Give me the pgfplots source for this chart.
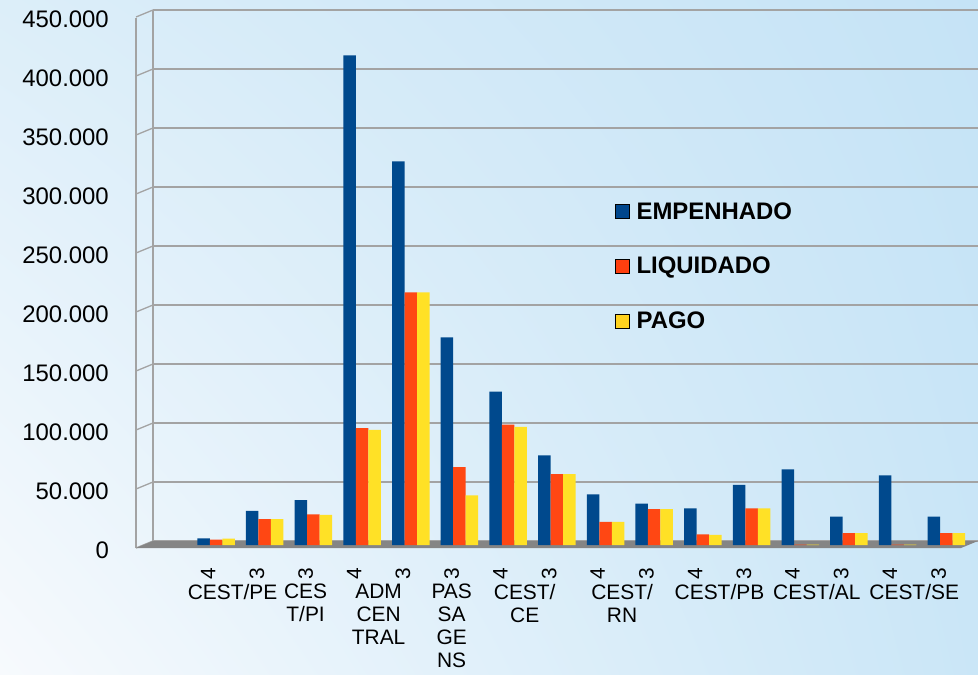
\documentclass[border=0pt]{standalone}
\usepackage{pgfplots}
\pgfplotsset{compat=1.18}
\usepackage{pgfplotstable}
\usetikzlibrary{shadings}
\usepackage{fontspec}
\setmainfont{Liberation Sans}
\definecolor{cblue}{HTML}{00498D}
\definecolor{cred}{HTML}{FF4713}
\definecolor{cyel}{HTML}{FFE126}
\definecolor{lblue}{HTML}{00468C}
\definecolor{lred}{HTML}{FE3F0F}
\definecolor{lyel}{HTML}{FFD21F}
\definecolor{gridc}{HTML}{A3A3A3}
\definecolor{floorc}{HTML}{858585}
\definecolor{bgll}{HTML}{F7FAFD}
\definecolor{bgul}{HTML}{DCEEF9}
\definecolor{bgur}{HTML}{C5E3F6}
\definecolor{bglr}{HTML}{CAE6F7}

% values in thousands
\pgfplotstableread{
x E L P
1 5.7 4.5 5.3
2 29 22 22
3 38 26 25.5
4 415 99 97.5
5 325 214 214
6 176 66 42
7 130 102 100
8 76 60 60
9 43 19.5 19.5
10 35 30.5 30.5
11 31 9 8.5
12 51 31 31
13 64 0.4 0.4
14 24 10 10
15 59 0.4 0.4
16 24 10 10
}\datatable

\begin{document}
\begin{tikzpicture}
\shade[lower left=bgll, upper left=bgul, upper right=bgur, lower right=bglr]
  (0,0) rectangle (978bp,675bp);
% front edge of the 3D wall
\draw[gridc, line width=1.3bp] (136bp,127bp) -- (136bp,657bp);
\foreach \k in {0,...,9}{
  \draw[gridc, line width=1.3bp] (136bp,{(127+59*\k)*1bp}) -- (153bp,{(134+59*\k)*1bp});
}
\begin{axis}[
  at={(153bp,134bp)}, anchor=south west,
  scale only axis, width=825bp, height=531bp,
  xmin=-0.294, xmax=16.65, ymin=0, ymax=450,
  axis lines*=left,
  x axis line style={draw=none},
  y axis line style={gridc, line width=1.3bp},
  major tick length=0pt,
  ytick={0,50,100,150,200,250,300,350,400,450},
  yticklabels={0,50.000,100.000,150.000,200.000,250.000,300.000,350.000,400.000,450.000},
  yticklabel style={font=\fontsize{24}{24}\selectfont, anchor=east, inner sep=0pt, xshift=-44bp, yshift=-9bp},
  xtick={0.84,1.84,2.84,3.84,4.84,5.84,6.84,7.84,8.84,9.84,10.84,11.84,12.84,13.84,14.84,15.84},
  xticklabels={4,3,3,4,3,3,4,3,4,3,4,3,4,3,4,3},
  xticklabel style={font=\fontsize{21}{21}\selectfont, rotate=90, anchor=east, inner sep=0pt},
  xticklabel shift=27bp,
  ymajorgrids, grid style={gridc, line width=1.3bp},
  clip=false,
  legend image code/.code={\fill[#1] (0bp,-7bp) rectangle (14bp,7bp);},
  legend style={at={(0.560,0.638)}, anchor=north west, draw=none, fill=none,
    font=\bfseries\fontsize{24}{28}\selectfont, row sep=36.5bp, inner sep=0pt,
    nodes={inner sep=0pt}},
  legend cell align=left,
]
\fill[floorc] (axis cs:-0.294,0) -- (axis cs:16.65,0)
  -- ([xshift=-17bp,yshift=-7bp]axis cs:16.65,0)
  -- ([xshift=-17bp,yshift=-7bp]axis cs:-0.294,0) -- cycle;
\addplot[ybar, bar width=12.5bp, bar shift=-12.5bp, yshift=-4bp, draw=none,
  fill=cblue, forget plot]
  table[x=x, y=E] {\datatable};
\addplot[ybar, bar width=12.5bp, bar shift=0bp, yshift=-4bp, draw=none,
  fill=cred, forget plot]
  table[x=x, y=L] {\datatable};
\addplot[ybar, bar width=12.5bp, bar shift=12.5bp, yshift=-4bp, draw=none,
  fill=cyel, forget plot]
  table[x=x, y=P] {\datatable};
\addlegendimage{fill=lblue}
\addlegendentry{\hspace{7bp}EMPENHADO}
\addlegendimage{fill=lred}
\addlegendentry{\hspace{7bp}LIQUIDADO}
\addlegendimage{fill=lyel}
\addlegendentry{\hspace{7bp}PAGO}
\begin{scope}[every node/.style={anchor=north, align=center, inner sep=0pt, font=\fontsize{21}{23}\selectfont}]
\node at ([yshift=-43bp]axis cs:1.34,0) {CEST/PE};
\node at ([yshift=-43bp]axis cs:2.84,0) {CES\\T/PI};
\node at ([yshift=-43bp]axis cs:4.34,0) {ADM\\CEN\\TRAL};
\node at ([yshift=-43bp]axis cs:5.84,0) {PAS\\SA\\GE\\NS};
\node at ([yshift=-43bp]axis cs:7.34,0) {CEST/\\CE};
\node at ([yshift=-43bp]axis cs:9.34,0) {CEST/\\RN};
\node at ([yshift=-43bp]axis cs:11.34,0) {CEST/PB};
\node at ([yshift=-43bp]axis cs:13.34,0) {CEST/AL};
\node at ([yshift=-43bp]axis cs:15.34,0) {CEST/SE};
\end{scope}
\end{axis}
\pgfresetboundingbox
\useasboundingbox (0,0) rectangle (978bp,675bp);
\end{tikzpicture}
\end{document}
